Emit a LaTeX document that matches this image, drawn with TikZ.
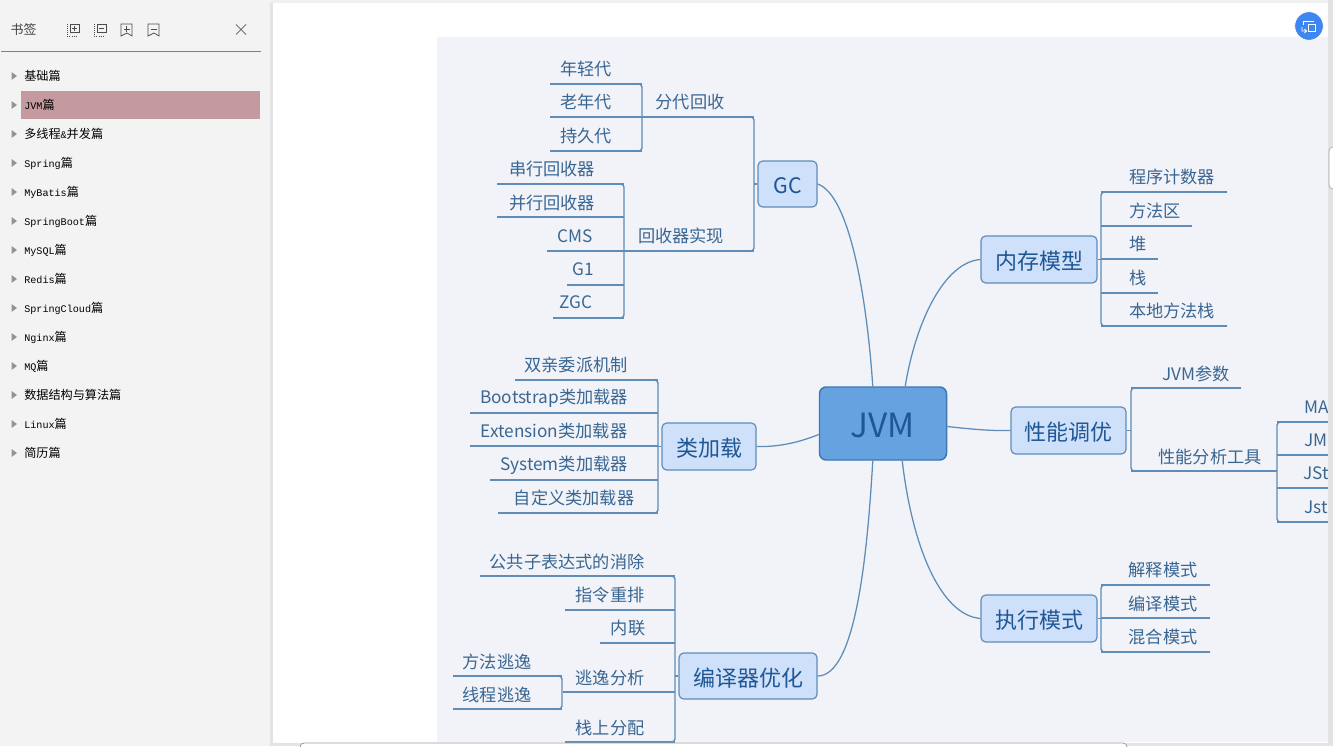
\documentclass[tikz,border=0pt]{standalone}
\usepackage{fontspec}
\setmainfont{Noto Sans CJK SC}
\newfontfamily\monofbase{Liberation Mono}
\newcommand{\monof}{\monofbase\fontsize{7.6pt}{10pt}\selectfont}
\definecolor{panel}{HTML}{F1F3F9}
\definecolor{side}{HTML}{F3F3F3}
\definecolor{gutter}{HTML}{E3E3E3}
\definecolor{wire}{HTML}{5F8DB8}
\definecolor{ink}{HTML}{3A6692}
\definecolor{boxfill}{HTML}{CFE0FB}
\definecolor{hilite}{HTML}{C49AA0}
\definecolor{rootfill}{HTML}{66A1E0}
\definecolor{rootedge}{HTML}{3F78B0}
\definecolor{rootink}{HTML}{1F5795}
\definecolor{badge}{HTML}{3F87F0}
\newcommand{\low}[1]{\raisebox{-1.5pt}[\height][\depth]{#1}}
\newcommand{\leaf}[7]{%
  \node[leaftext] (#1) at (#2,#3+1) {#4};
  \coordinate (#1-a) at (#5,#7);
  \coordinate (#1-b) at (#6,#7);
  \draw[wirel] (#1-a) -- (#1-b);}
\newcommand{\sideitem}[3]{%
  \node[sidetext] (#1) at (24,#2+0.2) {#3};
  \fill[gray!85] (11.5,#2-4) -- (17,#2) -- (11.5,#2+4) -- cycle;}
\begin{document}
\begin{tikzpicture}[x=0.75pt,y=-0.75pt,
  leaftext/.style={inner sep=0pt,text=ink,font=\fontsize{12.9pt}{14pt}\selectfont},
  wirel/.style={draw=wire,line width=1.05pt},
  bracket/.style={draw=wire,line width=1.05pt,rounded corners=2.5pt},
  branch/.style={draw=wire,line width=0.95pt},
  topic/.style={draw=wire,fill=boxfill,line width=0.9pt,rounded corners=3.5pt,inner sep=0pt,text=rootink,font=\fontsize{16.5pt}{18pt}\selectfont,anchor=center},
  sidetext/.style={inner sep=0pt,anchor=west,text=black,font=\fontsize{9.1pt}{10pt}\selectfont},
  iconl/.style={draw=black!70,line width=0.55pt}]
\useasboundingbox (0,0) rectangle (1333,746);
\fill[white] (0,0) rectangle (1333,746);
% chrome
\fill[side] (0,0) rectangle (270,746);
\fill[gutter] (270,0) rectangle (273,746);
\fill[black!6] (270,0) rectangle (1333,3);
\fill[panel] (437,37) rectangle (1328,742);
% sidebar header
\node[inner sep=0pt,text=black!75] (title) at (23.5,30) {\fontsize{9.7pt}{11pt}\selectfont 书签};
\draw[black!50,line width=0.6pt] (1,51.5) -- (261,51.5);
\draw[iconl] (70,24) rectangle (79,32);
\draw[iconl] (72,28) -- (77,28) (74.5,25.5) -- (74.5,30.5);
\draw[iconl,densely dotted] (67,24) -- (67,36) -- (76,36);
\draw[iconl] (97,24) rectangle (106,32);
\draw[iconl] (99,28) -- (104,28);
\draw[iconl,densely dotted] (94,24) -- (94,36) -- (103,36);
\draw[iconl] (121,24) -- (132,24) -- (132,36) -- (127,33) -- (121,36) -- cycle;
\draw[iconl] (123.5,29) -- (129.5,29) (126.5,26) -- (126.5,32);
\draw[iconl] (148,24) -- (159,24) -- (159,36) -- (154,33) -- (148,36) -- cycle;
\draw[iconl] (150.5,29) -- (156.5,29);
\draw[black!55,line width=0.6pt] (236,24.5) -- (246,34.5) (246,24.5) -- (236,34.5);
% sidebar list
\fill[hilite] (21,91) rectangle (260,119);
\sideitem{s1}{76}{基础篇}
\sideitem{s2}{105}{{\monof JVM}篇}
\sideitem{s3}{134}{多线程{\monof\&}并发篇}
\sideitem{s4}{163}{{\monof Spring}篇}
\sideitem{s5}{192}{{\monof MyBatis}篇}
\sideitem{s6}{221}{{\monof SpringBoot}篇}
\sideitem{s7}{250}{{\monof MySQL}篇}
\sideitem{s8}{279}{{\monof Redis}篇}
\sideitem{s9}{308}{{\monof SpringCloud}篇}
\sideitem{s10}{337}{{\monof Nginx}篇}
\sideitem{s11}{366}{{\monof MQ}篇}
\sideitem{s12}{395}{数据结构与算法篇}
\sideitem{s13}{424}{{\monof Linux}篇}
\sideitem{s14}{453}{简历篇}
% badge
\node[circle,fill=badge,draw=white,line width=0.6pt,minimum size=21.5pt,inner sep=0pt] (badge) at (1309,26) {};
\draw[white,line width=0.7pt] (1303,25) -- (1303,21) -- (1314,21);
\draw[white,line width=0.7pt,fill=badge] (1308,24) rectangle (1315,31);
\draw[white,line width=0.7pt] (1302,27) -- (1302,31) -- (1306,31) (1304.5,29) -- (1306.5,31) -- (1304.5,33);
% topic nodes
\node[topic,minimum width=95.25pt,minimum height=54.75pt,fill=rootfill,draw=rootedge,line width=1.1pt,text=rootink,rounded corners=5pt,font=\fontsize{25pt}{28pt}\selectfont] (jvm) at (883,423.5) {\low{JVM}};
\node[topic,minimum width=44.25pt,minimum height=34.5pt,font=\fontsize{16pt}{18pt}\selectfont] (gc) at (787.5,184) {\low{GC}};
\node[topic,minimum width=87pt,minimum height=35.25pt] (mem) at (1039,259.5) {\low{内存模型}};
\node[topic,minimum width=86.25pt,minimum height=35.25pt] (tune) at (1068.5,430.5) {\low{性能调优}};
\node[topic,minimum width=87pt,minimum height=35.25pt] (exec) at (1039,618.5) {\low{执行模式}};
\node[topic,minimum width=70.5pt,minimum height=35.25pt] (load) at (709,446.5) {\low{类加载}};
\node[topic,minimum width=103.5pt,minimum height=34.5pt] (comp) at (748,676) {\low{编译器优化}};
% root branches
\draw[branch] (jvm.north west)++(54,0) coordinate (j1) .. controls (867,300) and (850,195) .. (gc.east);
\draw[branch] (jvm.north east)++(-42,0) coordinate (j2) .. controls (916,320) and (945,262) .. (mem.west);
\draw[branch] (jvm.east)++(0,3) coordinate (j3) .. controls (970,429) and (990,431) .. (tune.west);
\draw[branch] (jvm.west)++(0,11) coordinate (j4) .. controls (795,444) and (775,447) .. (load.east);
\draw[branch] (jvm.south west)++(54,0) coordinate (j5) .. controls (867,560) and (855,676) .. (comp.east);
\draw[branch] (jvm.south east)++(-45,0) coordinate (j6) .. controls (912,545) and (940,615) .. (exec.west);
% GC
\leaf{g1}{586}{68}{年轻代}{550}{642}{84}
\leaf{g2}{586}{101}{老年代}{550}{642}{117}
\leaf{g3}{586}{135}{持久代}{550}{642}{151}
\leaf{g4}{690}{101}{分代回收}{642}{754}{117}
\draw[bracket] (g1-a) -- (g1-b) -- (g3-b) -- (g3-a);
\leaf{c1}{552}{168}{串行回收器}{497}{624}{184}
\leaf{c2}{552}{202}{并行回收器}{497}{624}{217}
\leaf{c3}{575}{235}{CMS}{547}{624}{251}
\leaf{c4}{583}{268}{G1}{567}{624}{285}
\leaf{c5}{576}{301}{ZGC}{553}{624}{318}
\leaf{c6}{681}{235}{回收器实现}{624}{754}{251}
\draw[bracket] (c1-a) -- (c1-b) -- (c5-b) -- (c5-a);
\draw[bracket] (g4-a) -- (g4-b) -- (c6-b) -- (c6-a);
\draw[wirel] (g4-b |- gc.west) -- (gc.west);
% memory
\leaf{m1}{1172}{176}{程序计数器}{1101}{1227}{192}
\leaf{m2}{1155}{210}{方法区}{1101}{1192}{226}
\leaf{m3}{1138}{243}{堆}{1101}{1158}{259}
\leaf{m4}{1138}{277}{栈}{1101}{1158}{293}
\leaf{m5}{1172}{310}{本地方法栈}{1101}{1227}{326}
\draw[bracket] (m1-b) -- (m1-a) -- (m5-a) -- (m5-b);
\draw[wirel] (mem.east) -- (m1-a |- mem.east);
% tuning
\leaf{t1}{1196}{373}{JVM参数}{1131}{1241}{388}
\leaf{t2}{1210}{456}{性能分析工具}{1131}{1277}{471}
\draw[bracket] (t1-b) -- (t1-a) -- (t2-a) -- (t2-b);
\draw[wirel] (tune.east) -- (t1-a |- tune.east);
\leaf{a1}{1317}{406}{MA}{1277}{1328}{422}
\leaf{a2}{1316}{439}{JM}{1277}{1328}{455}
\leaf{a3}{1316}{472}{JSt}{1277}{1328}{488}
\leaf{a4}{1316}{506}{Jst}{1277}{1328}{522}
\draw[bracket] (a1-b) -- (a1-a) -- (a4-a) -- (a4-b);
% exec
\leaf{e1}{1163}{569}{解释模式}{1101}{1210}{585}
\leaf{e2}{1163}{603}{编译模式}{1101}{1210}{618}
\leaf{e3}{1163}{636}{混合模式}{1101}{1210}{652}
\draw[bracket] (e1-b) -- (e1-a) -- (e3-a) -- (e3-b);
\draw[wirel] (exec.east) -- (e1-a |- exec.east);
% loader
\leaf{l1}{576}{364}{双亲委派机制}{515}{658}{380}
\leaf{l2}{554}{397}{Bootstrap类加载器}{470}{658}{413}
\leaf{l3}{554}{430}{Extension类加载器}{470}{658}{446}
\leaf{l4}{564}{464}{System类加载器}{490}{658}{480}
\leaf{l5}{574}{497}{自定义类加载器}{498}{658}{513}
\draw[bracket] (l1-a) -- (l1-b) -- (l5-b) -- (l5-a);
\draw[wirel] (load.west) -- (l1-b |- load.west);
% compiler
\leaf{o1}{567}{561}{公共子表达式的消除}{480}{675}{576}
\leaf{o2}{610}{594}{指令重排}{565}{675}{610}
\leaf{o3}{628}{627}{内联}{600}{675}{643}
\leaf{o4}{610}{677}{逃逸分析}{563}{675}{692}
\leaf{o5}{610}{727}{栈上分配}{565}{675}{742}
\draw[bracket] (o1-a) -- (o1-b) -- (o5-b) -- (o5-a);
\draw[wirel] (comp.west) -- (o1-b |- comp.west);
\leaf{p1}{497}{661}{方法逃逸}{453}{562}{676}
\leaf{p2}{497}{694}{线程逃逸}{453}{562}{709}
\draw[bracket] (p1-a) -- (p1-b) -- (p2-b) -- (p2-a);
% window edges on top
\fill[gutter] (1328,0) rectangle (1333,746);
\fill[gutter] (273,743) rectangle (1333,746);
\draw[draw=black!35,fill=white,line width=0.5pt,rounded corners=3pt] (1333,147) -- (1329,147) -- (1329,189) -- (1333,189);
\draw[draw=black!40,fill=white,line width=0.6pt,rounded corners=3pt] (300,747) -- (300,743) -- (1127,743) -- (1127,747);
\end{tikzpicture}
\end{document}
